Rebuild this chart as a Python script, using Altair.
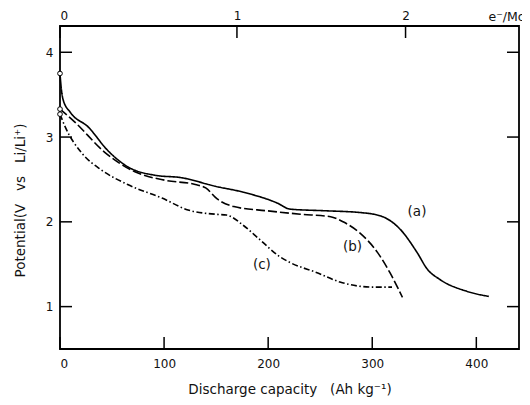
import json
import altair as alt
import pandas as pd

# ---- data ----
a_cap = [0, 1, 3, 10, 27, 46, 65, 91, 117, 149, 176, 209, 221, 256, 288, 308, 327, 343, 353, 365, 391, 412]
a_v = [3.75, 3.60, 3.44, 3.29, 3.12, 2.84, 2.65, 2.55, 2.52, 2.42, 2.35, 2.22, 2.15, 2.13, 2.11, 2.07, 1.91, 1.64, 1.44, 1.32, 1.18, 1.12]

b_cap = [0, 14, 43, 72, 101, 130, 140, 151, 167, 199, 231, 260, 272, 288, 305, 317, 329]
b_v = [3.33, 3.18, 2.82, 2.59, 2.49, 2.44, 2.40, 2.27, 2.18, 2.13, 2.09, 2.06, 2.00, 1.87, 1.64, 1.40, 1.11]

c_cap = [0, 5, 21, 40, 65, 98, 123, 149, 160, 176, 192, 211, 221, 247, 269, 301, 319]
c_v = [3.27, 3.12, 2.81, 2.61, 2.44, 2.28, 2.14, 2.09, 2.08, 1.96, 1.79, 1.59, 1.52, 1.40, 1.29, 1.23, 1.23]

series_names = ["a", "b", "c"]
start_v = [3.75, 3.33, 3.27]

label_text = ["(a)", "(b)", "(c)"]
label_cap = [343, 281, 194]
label_v = [2.12, 1.70, 1.49]

x_ticks = [0, 100, 200, 300, 400]
y_ticks = [1, 2, 3, 4]
top_caps = [0, 170, 332]
top_labels = ["0", "1", "2"]

# ---- tables ----
rows = []
for name, caps, vs in zip(series_names, [a_cap, b_cap, c_cap], [a_v, b_v, c_v]):
    for i, (c, v) in enumerate(zip(caps, vs)):
        rows.append({"series": name, "idx": i, "cap": c, "v": v})
df = pd.DataFrame(rows)
start_df = pd.DataFrame({"cap": [0] * len(start_v), "v": start_v})
lab_df = pd.DataFrame({"t": label_text, "cap": label_cap, "v": label_v})
xt_df = pd.DataFrame({"cap": x_ticks})
yt_df = pd.DataFrame({"v": y_ticks})
top_df = pd.DataFrame({"cap": top_caps})

W, H = 459, 323
FONT = "DejaVu Sans"
INK = "#111111"
xs = alt.Scale(domain=[0, 441], nice=False, zero=False)
ys = alt.Scale(domain=[0.5, 4.31], nice=False, zero=False)

bottom_axis = alt.Axis(
    orient="bottom", values=x_ticks, ticks=False, domain=False, grid=False, format="d",
    labelFont=FONT, labelFontSize=12, labelColor=INK, labelPadding=9,
    title="Discharge capacity\u00a0\u00a0\u00a0(Ah kg\u207b\u00b9)",
    titleFont=FONT, titleFontSize=13.5, titleFontWeight="normal", titleColor=INK,
    titleY=44, titleBaseline="alphabetic",
)
left_axis = alt.Axis(
    orient="left", values=y_ticks, ticks=False, domain=False, grid=False, format="d",
    labelFont=FONT, labelFontSize=12, labelColor=INK, labelPadding=7,
    title="Potential(V\u00a0\u00a0 vs \u00a0\u00a0Li/Li\u207a)",
    titleFont=FONT, titleFontSize=13.5, titleFontWeight="normal", titleColor=INK,
    titleAngle=-90, titleX=-40, titleY=174, titleAlign="center", titleBaseline="middle",
)
top_axis = alt.Axis(
    orient="top", values=top_caps, ticks=False, domain=False, grid=False,
    labelExpr=f"{json.dumps(top_labels)}[indexof({json.dumps(top_caps)}, datum.value)]",
    labelFont=FONT, labelFontSize=12, labelColor=INK, labelPadding=4,
    title="e\u207b/Mo", titleFont=FONT, titleFontSize=12.5, titleFontWeight="normal",
    titleColor=INK, titleX=428, titleY=-6, titleAlign="left", titleBaseline="alphabetic",
    titleAngle=0,
)

XN = dict(field="cap", type="quantitative", scale=xs, axis=None)
Y = dict(field="v", type="quantitative", scale=ys, axis=left_axis)

lines = alt.Chart(df).mark_line(color="black", strokeWidth=1.6, interpolate="monotone").encode(
    x=alt.X("cap:Q", scale=xs, axis=bottom_axis),
    y=alt.Y(**Y),
    strokeDash=alt.StrokeDash("series:N", scale=alt.Scale(domain=series_names,
                              range=[[1, 0], [9, 3], [6, 2.5, 1.5, 2.5]]), legend=None),
    order="idx:Q",
)

starts = alt.Chart(start_df).mark_point(shape="circle", filled=True, fill="white",
                                        stroke="black", strokeWidth=1, size=22, opacity=1).encode(
    x=alt.X(**XN), y=alt.Y(**Y)
)

labels = alt.Chart(lab_df).mark_text(font=FONT, fontSize=13.5, color=INK).encode(
    x=alt.X(**XN), y=alt.Y(**Y), text="t:N"
)

TL = 12
bticks = alt.Chart(xt_df).mark_rule(color="black", strokeWidth=1.5).encode(
    x=alt.X(**XN), y=alt.value(H), y2=alt.value(H - TL)
)
lticks = alt.Chart(yt_df).mark_rule(color="black", strokeWidth=1.5).encode(
    y=alt.Y(**Y), x=alt.value(0), x2=alt.value(TL)
)
rticks = alt.Chart(yt_df).mark_rule(color="black", strokeWidth=1.5).encode(
    y=alt.Y(**Y), x=alt.value(W), x2=alt.value(W - TL)
)
tticks = alt.Chart(top_df).mark_rule(color="black", strokeWidth=1.5).encode(
    x=alt.X("cap:Q", scale=xs, axis=top_axis), y=alt.value(0), y2=alt.value(TL)
)

chart = alt.layer(lines, starts, labels, bticks, lticks, rticks, tticks).properties(
    width=W, height=H,
    autosize="none",
    padding={"left": 52, "top": 18, "right": 3, "bottom": 48},
).configure_view(stroke="black", strokeWidth=1.8)

chart.save("out.html", embed_options={"renderer": "svg", "actions": False})
